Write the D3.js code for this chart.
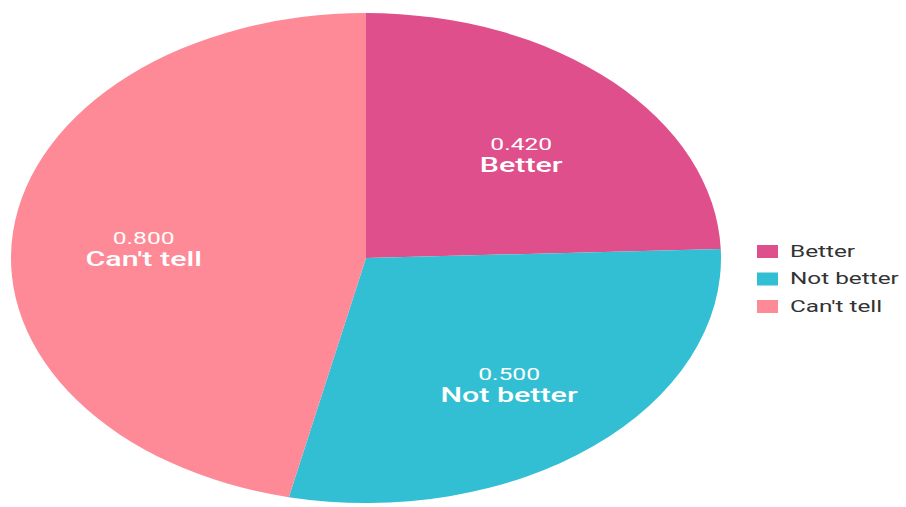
<!DOCTYPE html>
<html>
<head>
<meta charset="utf-8">
<script src="https://cdn.jsdelivr.net/npm/d3@7"></script>
<style>
  html, body { margin: 0; padding: 0; background: #ffffff; }
  svg { display: block; }
  text { font-family: Roboto, "Noto Sans", sans-serif; }
</style>
</head>
<body>
<svg id="chart" width="906" height="507"></svg>
<script>
// Survey answers and their shares
const categories = ["Better", "Not better", "Can't tell"];
const values = [0.42, 0.5, 0.8];
const colors = ["#df4f8b", "#33bfd3", "#fd8a96"];

const W = 906, H = 507;
const cx = 366, cy = 258;
const rx = 355, ry = 245;      // the pie is drawn as an ellipse
const sx = rx / ry;            // horizontal stretch applied to the whole chart
const R = ry;

const svg = d3.select("#chart");

const data = categories.map((c, i) => ({ name: c, value: values[i], color: colors[i] }));

const pie = d3.pie().sort(null).value(d => d.value);
const arcs = pie(data);
const arc = d3.arc().innerRadius(0).outerRadius(R);
const labelArc = d3.arc().innerRadius(R * 0.63).outerRadius(R * 0.63);

const g = svg.append("g").attr("transform", `translate(${cx},${cy}) scale(${sx},1)`);

g.selectAll("path.slice")
  .data(arcs)
  .join("path")
  .attr("class", "slice")
  .attr("d", arc)
  .attr("fill", d => d.data.color);

const labels = g.selectAll("g.label")
  .data(arcs)
  .join("g")
  .attr("class", "label")
  .attr("transform", d => {
    const [x, y] = labelArc.centroid(d);
    return `translate(${x},${y + 10})`;
  });

labels.append("text")
  .attr("text-anchor", "middle")
  .attr("y", -7)
  .attr("fill", "#ffffff")
  .attr("font-size", 17)
  .text(d => d3.format(".3f")(d.data.value));

labels.append("text")
  .attr("text-anchor", "middle")
  .attr("y", 15)
  .attr("fill", "#ffffff")
  .attr("font-size", 21)
  .attr("font-weight", 500)
  .text(d => d.data.name);

// Legend
const legend = svg.append("g").attr("transform", `translate(757,251)`);
const rows = legend.selectAll("g.row")
  .data(data)
  .join("g")
  .attr("class", "row")
  .attr("transform", (d, i) => `translate(0,${i * 27.5})`);

rows.append("rect")
  .attr("x", 0).attr("y", -6)
  .attr("width", 21).attr("height", 13)
  .attr("fill", d => d.color);

rows.append("text")
  .attr("transform", `translate(33,0) scale(${sx * 1.05},1)`)
  .attr("dy", "0.35em")
  .attr("fill", "#333333")
  .attr("font-size", 16)
  .text(d => d.name);
</script>
</body>
</html>
